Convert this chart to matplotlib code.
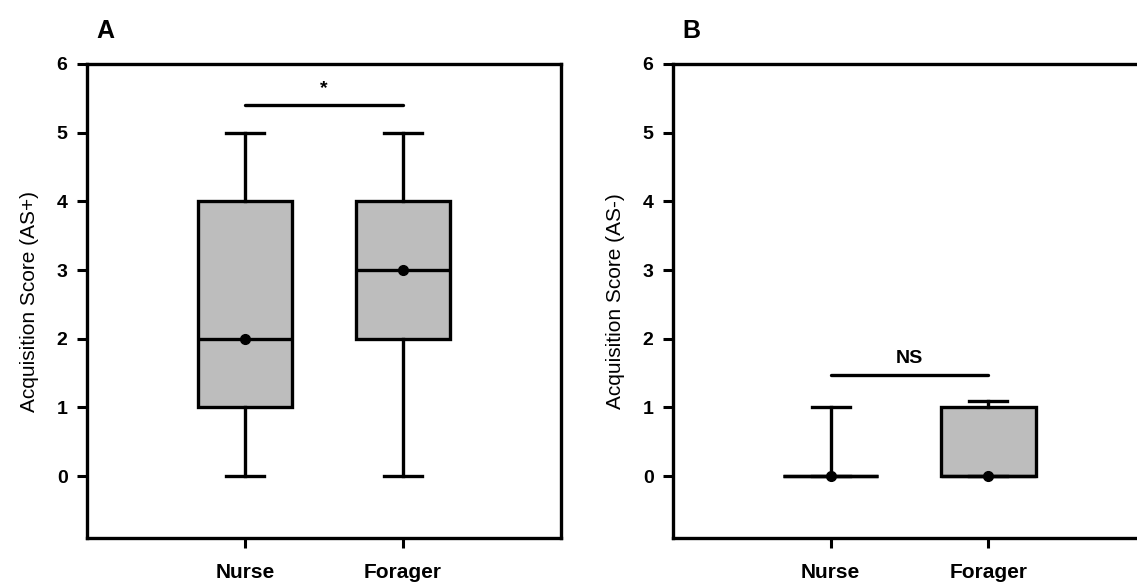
import matplotlib
matplotlib.use("Agg")
import matplotlib.pyplot as plt

plt.rcParams['font.family'] = ['Liberation Sans', 'DejaVu Sans']

groups = ['Nurse', 'Forager']

# panel A: AS+ box stats (whislo, q1, med, q3, whishi, mean)
as_plus = {
    'Nurse': [0, 1, 2, 4, 5, 2],
    'Forager': [0, 2, 3, 4, 5, 3],
}
# panel B: AS- box stats
as_minus = {
    'Nurse': [0, 0, 0, 0, 1, 0],
    'Forager': [0, 0, 0, 1, 1.1, 0],
}

sig_a = ('*', 5.4)
sig_b = ('NS', 1.48)

W, H = 1137, 584
fig = plt.figure(figsize=(W / 100, H / 100), dpi=100)

ax_a = fig.add_axes([87 / W, (H - 538) / H, 474 / W, 474 / H])
ax_b = fig.add_axes([673 / W, (H - 538) / H, 473 / W, 474 / H])


def make_stats(d):
    stats = []
    for g in groups:
        lo, q1, med, q3, hi, mean = d[g]
        stats.append(dict(whislo=lo, q1=q1, med=med, q3=q3, whishi=hi,
                          mean=mean, fliers=[], label=g))
    return stats


def draw(ax, d, ylabel, letter, sig, right_spine=True):
    lw = 2.4
    ax.bxp(make_stats(d), positions=[1, 2], widths=0.6, capwidths=0.24,
           patch_artist=True, showmeans=True, showfliers=False,
           boxprops=dict(facecolor='#bdbdbd', edgecolor='black', linewidth=lw),
           medianprops=dict(color='black', linewidth=lw),
           whiskerprops=dict(color='black', linewidth=lw),
           capprops=dict(color='black', linewidth=lw),
           meanprops=dict(marker='o', markerfacecolor='black',
                          markeredgecolor='black', markersize=7))
    ax.set_xlim(0, 3)
    ax.set_ylim(-0.9, 6)
    ax.set_yticks(range(0, 7))
    ax.set_xticks([1, 2])
    ax.set_xticklabels(groups)
    for s in ax.spines.values():
        s.set_linewidth(2.4)
    if not right_spine:
        ax.spines['right'].set_visible(False)
    ax.tick_params(axis='both', direction='out', length=7, width=2.2,
                   labelsize=14)
    ax.tick_params(axis='x', pad=11, labelsize=15)
    ax.tick_params(axis='y', pad=7)
    for t in ax.get_xticklabels() + ax.get_yticklabels():
        t.set_fontweight('bold')
    ax.set_ylabel(ylabel, fontsize=15, labelpad=13)

    text, y = sig
    ax.plot([1, 2], [y, y], color='black', linewidth=2.4, solid_capstyle='round')
    ax.text(1.5, y + 0.24, text, ha='center', va='center', fontsize=14,
            fontweight='bold')
    ax.text(0.02, 1.07, letter, transform=ax.transAxes, fontsize=18,
            fontweight='bold', ha='left', va='center')


draw(ax_a, as_plus, 'Acquisition Score (AS+)', 'A', sig_a)
draw(ax_b, as_minus, 'Acquisition Score (AS-)', 'B', sig_b, right_spine=False)

fig.savefig('out.png', dpi=100)
